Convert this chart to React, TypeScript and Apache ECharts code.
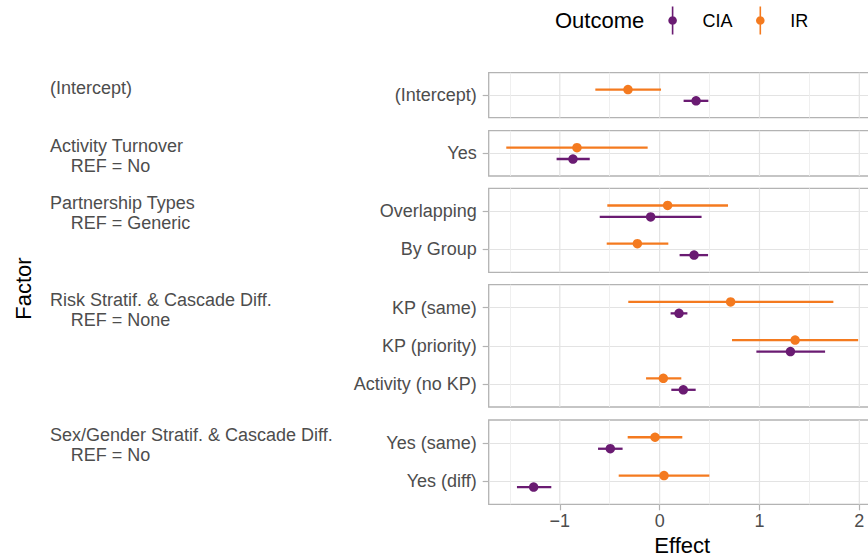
import { useEffect, useRef } from 'react';
import * as echarts from 'echarts';

// facet strips (left-hand labels)
const panelTitles = [
  '(Intercept)',
  'Activity Turnover',
  'Partnership Types',
  'Risk Stratif. & Cascade Diff.',
  'Sex/Gender Stratif. & Cascade Diff.',
];
const panelRefs = ['', 'REF = No', 'REF = Generic', 'REF = None', 'REF = No'];

// one entry per factor level
const levels = [
  '(Intercept)',
  'Yes',
  'Overlapping',
  'By Group',
  'KP (same)',
  'KP (priority)',
  'Activity (no KP)',
  'Yes (same)',
  'Yes (diff)',
];
const levelPanel = [0, 1, 2, 2, 3, 3, 3, 4, 4];

const ciaEst = [0.365, -0.868, -0.09, 0.345, 0.194, 1.31, 0.237, -0.494, -1.262];
const ciaLow = [0.24, -1.032, -0.6, 0.2, 0.11, 0.969, 0.117, -0.617, -1.429];
const ciaHigh = [0.488, -0.7, 0.42, 0.485, 0.278, 1.657, 0.361, -0.371, -1.085];

const irEst = [-0.317, -0.828, 0.08, -0.223, 0.711, 1.357, 0.037, -0.046, 0.044];
const irLow = [-0.644, -1.536, -0.524, -0.53, -0.314, 0.725, -0.136, -0.32, -0.41];
const irHigh = [0.014, -0.12, 0.685, 0.087, 1.74, 1.988, 0.217, 0.227, 0.498];

const xTicks = [-1, 0, 1, 2];

const outcomes = ['CIA', 'IR'];
const outcomeColors = ['#6a1b72', '#f47a1f'];
const outcomeData = [
  { est: ciaEst, low: ciaLow, high: ciaHigh, dodge: 0.15 },
  { est: irEst, low: irLow, high: irHigh, dodge: -0.15 },
];

// layout (pixels)
const panelTop = [72.7, 130.7, 188.3, 284.7, 420];
const panelBottom = [117.7, 176, 272.3, 407, 504.3];
const plotLeft = 488.7;
const plotWidth = 387;
const X_MIN = -1.712;
const X_MAX = 2.164;
const FONT = 'Liberation Sans';

const legendIcon =
  'path://M4.2,0 L5.8,0 L5.8,28 L4.2,28 Z M0.7,14 A4.3,4.3 0 1 1 9.3,14 A4.3,4.3 0 1 1 0.7,14 Z';

const fmtNum = (v: number) => (v < 0 ? '\u2212' + Math.abs(v) : String(v));

export default function App() {
  const chartRef = useRef<HTMLDivElement>(null);

  useEffect(() => {
    if (!chartRef.current) return;
    const chart = echarts.init(chartRef.current, null, { renderer: 'svg' });

    const nPanels = panelTitles.length;
    const panelLevels = panelTitles.map((_, p) =>
      levels.map((l, i) => ({ l, i })).filter((d) => levelPanel[d.i] === p)
    );

    const grids: any[] = [];
    const xAxes: any[] = [];
    const yAxes: any[] = [];
    const series: any[] = [];
    const graphics: any[] = [];

    for (let p = 0; p < nPanels; p++) {
      const isLast = p === nPanels - 1;
      const n = panelLevels[p].length;
      const idx = panelLevels[p].map((_, k) => k);
      const yMin = -0.6;
      const yMax = n - 0.4;

      grids.push({
        left: plotLeft,
        width: plotWidth,
        top: panelTop[p],
        height: panelBottom[p] - panelTop[p],
        show: true,
        borderColor: '#b3b3b3',
        borderWidth: 1.3,
        backgroundColor: 'transparent',
        containLabel: false,
        outerBoundsMode: 'none',
      });

      xAxes.push({
        type: 'value',
        gridIndex: p,
        min: X_MIN,
        max: X_MAX,
        axisLine: { show: false, onZero: false },
        axisTick: {
          show: isLast,
          customValues: xTicks,
          length: 6,
          lineStyle: { color: '#b3b3b3', width: 1.2 },
        },
        axisLabel: {
          show: isLast,
          customValues: xTicks,
          formatter: fmtNum,
          fontSize: 18,
          color: '#4d4d4d',
          fontFamily: FONT,
          margin: 8,
        },
        splitLine: { show: false },
        minorTick: { show: false, splitNumber: 2 },
        minorSplitLine: { show: true, lineStyle: { color: '#ededed', width: 0.9 } },
        name: isLast ? 'Effect' : '',
        nameLocation: 'middle',
        nameGap: 30,
        nameTextStyle: { fontSize: 22, color: '#000', fontFamily: FONT },
      });

      yAxes.push({
        type: 'value',
        gridIndex: p,
        inverse: true,
        min: yMin,
        max: yMax,
        axisLine: { show: false, onZero: false },
        axisTick: {
          show: true,
          customValues: idx,
          length: 6,
          lineStyle: { color: '#b3b3b3', width: 1.2 },
        },
        axisLabel: {
          show: true,
          customValues: idx,
          formatter: (v: number) => panelLevels[p][Math.round(v)]?.l ?? '',
          fontSize: 18,
          color: '#4d4d4d',
          fontFamily: FONT,
          margin: 12,
        },
        splitLine: { show: true, lineStyle: { color: '#e3e3e3', width: 1.2 } },
      });

      // major vertical grid lines at the x ticks
      series.push({
        type: 'custom',
        xAxisIndex: p,
        yAxisIndex: p,
        coordinateSystem: 'cartesian2d',
        data: xTicks.map((v) => [v, yMin, yMax]),
        encode: { x: 0, y: [1, 2] },
        z: 1,
        silent: true,
        renderItem: (_params: any, api: any) => {
          const a = api.coord([api.value(0), api.value(1)]);
          const b = api.coord([api.value(0), api.value(2)]);
          return {
            type: 'line',
            shape: { x1: a[0], y1: a[1], x2: b[0], y2: b[1] },
            style: { stroke: '#e3e3e3', lineWidth: 1.2 },
          };
        },
      });

      outcomes.forEach((name, o) => {
        const d = outcomeData[o];
        const color = outcomeColors[o];
        const rows = panelLevels[p].map((lv, k) => ({
          low: d.low[lv.i],
          high: d.high[lv.i],
          est: d.est[lv.i],
          y: k + d.dodge,
        }));
        series.push({
          type: 'scatter',
          name,
          xAxisIndex: p,
          yAxisIndex: p,
          data: rows.map((r) => [r.est, r.y]),
          symbol: 'circle',
          symbolSize: 9.5,
          itemStyle: { color, opacity: 1 },
          z: 4,
          silent: true,
        });
        series.push({
          type: 'custom',
          name,
          xAxisIndex: p,
          yAxisIndex: p,
          coordinateSystem: 'cartesian2d',
          data: rows.map((r) => [r.low, r.high, r.y]),
          encode: { x: [0, 1], y: 2 },
          itemStyle: { color },
          z: 3,
          silent: true,
          renderItem: (_params: any, api: any) => {
            const y = api.value(2);
            const a = api.coord([api.value(0), y]);
            const b = api.coord([api.value(1), y]);
            return {
              type: 'line',
              shape: { x1: a[0], y1: a[1], x2: b[0], y2: b[1] },
              style: { stroke: color, lineWidth: 2.3 },
            };
          },
        });
      });

      // strip labels
      graphics.push({
        type: 'text',
        x: 50,
        y: panelTop[p] + 15,
        style: {
          text: panelTitles[p],
          fontSize: 18,
          fontFamily: FONT,
          fill: '#4d4d4d',
          align: 'left',
          verticalAlign: 'middle',
        },
      });
      if (panelRefs[p]) {
        graphics.push({
          type: 'text',
          x: 70.7,
          y: panelTop[p] + 35,
          style: {
            text: panelRefs[p],
            fontSize: 18,
            fontFamily: FONT,
            fill: '#4d4d4d',
            align: 'left',
            verticalAlign: 'middle',
          },
        });
      }
    }

    graphics.push({
      type: 'text',
      x: 23.5,
      y: 288.5,
      rotation: Math.PI / 2,
      style: {
        text: 'Factor',
        fontSize: 22,
        fontFamily: FONT,
        fill: '#000',
        align: 'center',
        verticalAlign: 'middle',
      },
    });
    graphics.push({
      type: 'text',
      x: 555,
      y: 20.5,
      style: {
        text: 'Outcome',
        fontSize: 22,
        fontFamily: FONT,
        fill: '#000',
        align: 'left',
        verticalAlign: 'middle',
      },
    });

    chart.setOption({
      animation: false,
      textStyle: { fontFamily: FONT },
      grid: grids,
      xAxis: xAxes,
      yAxis: yAxes,
      series,
      legend: {
        data: outcomes.map((name) => ({ name, icon: legendIcon })),
        orient: 'horizontal',
        left: 668.3,
        top: 6.5,
        padding: 0,
        itemWidth: 50,
        itemHeight: 28,
        itemGap: 23.4,
        selectedMode: false,
        textStyle: { fontSize: 18, color: '#000', fontFamily: FONT },
      },
      graphic: graphics,
    });

    return () => {
      chart.dispose();
    };
  }, []);

  return (
    <div
      ref={chartRef}
      style={{ position: 'fixed', left: 0, top: 0, width: 868, height: 559, background: '#fff' }}
    ></div>
  );
}
